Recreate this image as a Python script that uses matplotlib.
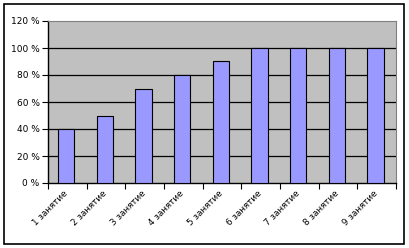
import matplotlib
matplotlib.use("Agg")
import matplotlib.pyplot as plt
from matplotlib.patches import Rectangle
import numpy as np

categories = ["1 занятие", "2 занятие", "3 занятие", "4 занятие", "5 занятие",
              "6 занятие", "7 занятие", "8 занятие", "9 занятие"]
values = [40, 50, 70, 80, 90, 100, 100, 100, 100]
yticks = [0, 20, 40, 60, 80, 100, 120]
ytick_labels = ["0 %", "20 %", "40 %", "60 %", "80 %", "100 %", "120 %"]

fig = plt.figure(figsize=(4.09, 2.48), dpi=100)
fig.patches.append(Rectangle((4/409, 4/248), 400/409, 240/248, transform=fig.transFigure,
                             fill=False, edgecolor="black", linewidth=1.2))
ax = fig.add_axes([48/409, 1 - 183/248, 348/409, 162/248])
ax.set_facecolor("#c0c0c0")
x = np.arange(len(categories))
ax.bar(x - 0.03, values, width=0.42, color="#9999ff", edgecolor="black", linewidth=0.8, zorder=3)
ax.set_xlim(-0.5, len(categories) - 0.5)
ax.set_ylim(0, 120)
ax.set_yticks(yticks)
ax.set_yticklabels(ytick_labels, fontsize=6.5)
for y in yticks[1:-1]:
    ax.axhline(y, color="black", linewidth=0.9, zorder=2)
ax.set_xticks(np.arange(-0.5, len(categories) + 0.5, 1))
ax.set_xticklabels([])
ax.set_xticks(x - 0.1, minor=True)
ax.set_xticklabels(categories, minor=True, rotation=45, ha="right", rotation_mode="anchor", fontsize=6.3)
ax.tick_params(axis="x", which="minor", length=0, pad=4)
ax.tick_params(axis="x", which="major", length=4, direction="out", color="black")
ax.tick_params(axis="y", length=4, direction="out", pad=2)
for s in ["top", "right"]:
    ax.spines[s].set_color("#808080")
    ax.spines[s].set_linewidth(0.8)
for s in ["left", "bottom"]:
    ax.spines[s].set_color("black")
    ax.spines[s].set_linewidth(1.0)
fig.savefig("out.png", dpi=100)
